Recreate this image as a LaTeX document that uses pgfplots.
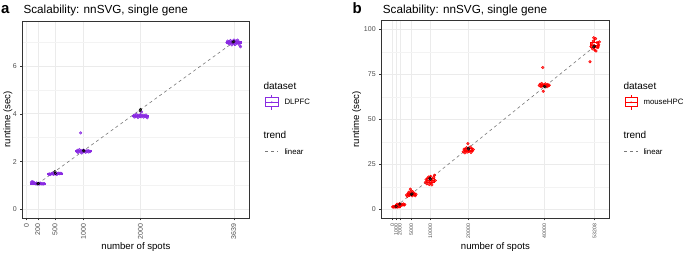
\documentclass[border=0pt]{standalone}
\usepackage{pgfplots}
\pgfplotsset{compat=1.18}
\usepgfplotslibrary{statistics}
\usepackage{fontspec}
\setmainfont{Liberation Sans}
\definecolor{dlpfc}{RGB}{138,43,226}
\definecolor{mhpc}{RGB}{255,0,0}
\definecolor{gridc}{RGB}{235,235,235}
\definecolor{gridm}{RGB}{243,243,243}
\definecolor{gtwenty}{RGB}{51,51,51}
\definecolor{gthirty}{RGB}{77,77,77}
\definecolor{trendc}{RGB}{120,120,120}
\pgfplotsset{
  panel/.style={
    scale only axis,
    axis line style={draw=gtwenty, line width=0.5pt},
    tick style={draw=gtwenty, line width=0.5pt},
    tick align=outside,
    major tick length=2.5pt,
    minor tick length=0pt,
    xtick pos=lower, ytick pos=left,
    xmajorgrids, ymajorgrids, yminorgrids,
    major grid style={draw=gridc, line width=0.6pt},
    minor grid style={draw=gridm, line width=0.35pt},
    scaled x ticks=false, scaled y ticks=false,
    yticklabel style={font=\fontsize{7}{7}\selectfont, text=gthirty},
    xticklabel style={rotate=90, anchor=east, text=gthirty},
  },
  pts/.style={only marks, color=#1, mark=*, mark size=1.35pt, mark options={draw=none, fill=#1, fill opacity=0.7}},
  dark/.style={only marks, color=black, mark=*, mark size=1.3pt, mark options={draw=none, fill=black!80, fill opacity=0.5}},
  bx/.style={draw=#1, line width=0.6pt, solid},
}
\begin{document}
\begin{tikzpicture}
\useasboundingbox (0pt,0pt) rectangle (685pt,253pt);
% ---------------- panel a ----------------
\begin{axis}[panel, at={(22.7pt,35pt)}, anchor=south west, width=226.3pt, height=197pt,
  xmin=-65, xmax=3905, ymin=-0.36, ymax=7.88,
  xtick={0,200,500,1000,2000,3639}, xticklabels={0,200,500,1000,2000,3639},
  xticklabel style={font=\fontsize{7}{7}\selectfont},
  ytick={0,2,4,6}, yticklabels={0,2,4,6}, minor ytick={1,3,5,7},
  boxplot/draw direction=y]
\addplot[bx=dlpfc, boxplot prepared={draw position=200, lower whisker=1.05, lower quartile=1.07, median=1.08, upper quartile=1.10, upper whisker=1.13, box extend=270, whisker extend=0}] coordinates {};
\addplot[bx=dlpfc, boxplot prepared={draw position=500, lower whisker=1.46, lower quartile=1.48, median=1.49, upper quartile=1.50, upper whisker=1.52, box extend=270, whisker extend=0}] coordinates {};
\addplot[bx=dlpfc, boxplot prepared={draw position=1000, lower whisker=2.36, lower quartile=2.41, median=2.43, upper quartile=2.46, upper whisker=2.50, box extend=270, whisker extend=0}] coordinates {};
\addplot[bx=dlpfc, boxplot prepared={draw position=2000, lower whisker=3.83, lower quartile=3.88, median=3.91, upper quartile=3.94, upper whisker=3.97, box extend=270, whisker extend=0}] coordinates {};
\addplot[bx=dlpfc, boxplot prepared={draw position=3639, lower whisker=6.85, lower quartile=6.94, median=6.99, upper quartile=7.04, upper whisker=7.08, box extend=270, whisker extend=0}] coordinates {};
\addplot[pts=dlpfc] coordinates {
(88,1.13)(100,1.16)(112,1.12)(122,1.14)(135,1.11)(148,1.09)(160,1.07)(172,1.09)(185,1.06)(198,1.08)(210,1.07)(222,1.09)(235,1.06)(248,1.08)(262,1.07)(275,1.08)(290,1.06)(305,1.07)(315,1.08)(180,1.10)(240,1.10)
(392,1.47)(405,1.48)(420,1.46)(435,1.49)(450,1.50)(465,1.48)(480,1.47)(495,1.50)(510,1.49)(525,1.51)(540,1.48)(555,1.50)(570,1.52)(585,1.49)(600,1.51)(615,1.50)(460,1.52)(530,1.46)
(885,2.42)(895,2.47)(905,2.38)(918,2.44)(930,2.50)(945,2.40)(950,3.20)(960,2.46)(972,2.36)(985,2.43)(1000,2.48)(1012,2.41)(1025,2.45)(1040,2.39)(1055,2.44)(1068,2.42)(1082,2.46)(1095,2.40)(1108,2.43)(1120,2.42)
(1880,3.92)(1892,3.86)(1905,3.95)(1918,3.88)(1930,3.97)(1945,3.90)(1958,3.84)(1972,3.93)(1985,3.89)(2000,3.96)(2012,3.87)(2020,4.08)(2030,3.91)(2045,3.94)(2058,3.86)(2072,3.92)(2085,3.89)(2098,3.95)(2110,3.88)(2120,3.83)
(3520,6.98)(3530,7.04)(3542,6.95)(3555,7.02)(3568,6.92)(3580,7.06)(3592,6.98)(3605,6.88)(3618,7.03)(3630,6.94)(3642,7.08)(3655,6.99)(3668,6.91)(3680,7.05)(3692,6.97)(3705,7.08)(3718,6.93)(3730,7.00)(3745,6.85)(3755,6.80)
};
\addplot[draw=trendc, line width=0.6pt, dash pattern=on 3pt off 3pt] coordinates {(200,1.07)(3639,7.0)};
\addplot[dark] coordinates {(200,1.07)(212,1.08)(500,1.58)(508,1.50)(1000,2.46)(1010,2.44)(2000,4.18)(1995,4.12)(3639,7.02)(3625,7.0)};
\end{axis}
% ---------------- panel b ----------------
\begin{axis}[panel, at={(381.7pt,35pt)}, anchor=south west, width=227.3pt, height=197.3pt,
  xmin=-2790, xmax=57026, ymin=-4.8, ymax=104.8,
  xtick={0,1000,2000,5000,10000,20000,40000,53208}, xticklabels={0,1000,2000,5000,10000,20000,40000,53208},
  xticklabel style={font=\fontsize{5.2}{5.2}\selectfont},
  ytick={0,25,50,75,100}, yticklabels={0,25,50,75,100}, minor ytick={12.5,37.5,62.5,87.5},
  boxplot/draw direction=y]
\addplot[bx=mhpc, boxplot prepared={draw position=1000, lower whisker=1.2, lower quartile=1.35, median=1.5, upper quartile=1.6, upper whisker=1.8, box extend=2200, whisker extend=0}] coordinates {};
\addplot[bx=mhpc, boxplot prepared={draw position=2000, lower whisker=2.2, lower quartile=2.4, median=2.6, upper quartile=2.9, upper whisker=3.3, box extend=2200, whisker extend=0}] coordinates {};
\addplot[bx=mhpc, boxplot prepared={draw position=5000, lower whisker=7.2, lower quartile=7.9, median=8.4, upper quartile=9.0, upper whisker=10.2, box extend=2200, whisker extend=0}] coordinates {};
\addplot[bx=mhpc, boxplot prepared={draw position=10000, lower whisker=13.6, lower quartile=15.0, median=16.0, upper quartile=17.4, upper whisker=18.9, box extend=2200, whisker extend=0}] coordinates {};
\addplot[bx=mhpc, boxplot prepared={draw position=20000, lower whisker=31.4, lower quartile=32.0, median=32.9, upper quartile=33.7, upper whisker=34.6, box extend=2200, whisker extend=0}] coordinates {};
\addplot[bx=mhpc, boxplot prepared={draw position=40000, lower whisker=68.1, lower quartile=68.6, median=69.0, upper quartile=69.4, upper whisker=69.9, box extend=2200, whisker extend=0}] coordinates {};
\addplot[bx=mhpc, boxplot prepared={draw position=53208, lower whisker=88.0, lower quartile=90.2, median=91.2, upper quartile=92.8, upper whisker=95.3, box extend=2200, whisker extend=0}] coordinates {};
\addplot[pts=mhpc] coordinates {
(100,1.4)(300,1.3)(450,1.6)(600,1.5)(750,1.2)(900,1.7)(1050,1.4)(1200,1.5)(1350,1.3)(1500,1.8)(1650,1.5)(1800,1.4)(1950,1.6)
(1100,2.4)(1300,2.9)(1500,2.2)(1700,2.7)(1900,3.1)(2100,2.5)(2300,2.8)(2500,2.3)(2700,2.6)(2900,3.0)(3100,2.4)(3300,2.7)
(3750,8.0)(3950,7.2)(4150,8.6)(4350,9.5)(4550,7.8)(4750,11.2)(4900,10.2)(5050,8.3)(5250,7.5)(5450,9.0)(5650,8.1)(5850,8.8)(6050,7.6)(6250,8.4)(4650,8.9)(5350,9.8)
(8700,15.0)(8900,16.5)(9100,14.2)(9300,17.4)(9500,15.6)(9700,13.8)(9900,16.1)(10100,18.3)(10300,14.8)(10500,16.9)(10700,15.3)(10900,17.8)(11100,18.9)(11300,16.0)(9600,18.0)(10400,13.6)
(18700,32.0)(18900,33.5)(19100,31.4)(19300,32.8)(19500,34.2)(19700,31.8)(19900,36.5)(20100,33.1)(20300,32.4)(20500,34.6)(20700,31.6)(20900,33.8)(21100,32.6)(21300,33.3)
(38700,68.8)(38900,69.5)(39100,68.2)(39300,69.9)(39500,68.6)(39600,78.8)(39700,65.6)(39900,69.2)(40100,68.4)(40300,69.7)(40500,68.9)(40700,68.1)(40900,69.4)(41100,68.7)(41300,69.0)
(52000,82.0)(52300,90.5)(52500,92.0)(52700,89.2)(52900,93.5)(53100,91.0)(53300,88.4)(53500,94.8)(53700,90.2)(53900,92.6)(54100,89.8)(54300,91.5)(54500,93.0)(53000,95.3)(53600,88.0)(54200,90.8)
};
\addplot[draw=trendc, line width=0.6pt, dash pattern=on 3pt off 3pt] coordinates {(1000,1.7)(53208,90.5)};
\addplot[dark] coordinates {(1000,1.6)(2000,2.9)(5000,8.3)(5200,8.6)(10000,16.8)(9900,17.3)(20000,34.0)(20100,33.5)(40000,68.3)(40200,68.0)(53208,90.6)(53000,90.2)};
\end{axis}
% ---------------- titles and labels ----------------
\node[anchor=base west, inner sep=0] at (1pt,239.7pt) {\bfseries\fontsize{15}{15}\selectfont a};
\node[anchor=base west, inner sep=0] at (23.3pt,239.5pt) {\fontsize{11.7}{12}\selectfont Scalability: nnSVG, single gene};
\node[anchor=base west, inner sep=0] at (352.3pt,239.5pt) {\bfseries\fontsize{15}{15}\selectfont b};
\node[anchor=base west, inner sep=0] at (382.7pt,239.5pt) {\fontsize{11.7}{12}\selectfont Scalability: nnSVG, single gene};
\node[anchor=base, inner sep=0] at (135.9pt,3pt) {\fontsize{9.6}{10}\selectfont number of spots};
\node[anchor=base, inner sep=0] at (495.4pt,3pt) {\fontsize{9.6}{10}\selectfont number of spots};
\node[rotate=90, inner sep=0] at (8pt,133.5pt) {\fontsize{9.6}{10}\selectfont runtime (sec)};
\node[rotate=90, inner sep=0] at (356.7pt,133.5pt) {\fontsize{9.6}{10}\selectfont runtime (sec)};
% ---------------- legends ----------------
\node[anchor=west, inner sep=0] at (263.3pt,167.3pt) {\fontsize{10}{10}\selectfont dataset};
\draw[dlpfc, line width=0.6pt] (265.5pt,146.2pt) rectangle (278pt,155.2pt);
\draw[dlpfc, line width=0.6pt] (265.5pt,150.7pt) -- (278pt,150.7pt);
\draw[dlpfc, line width=0.6pt] (271.75pt,155.2pt) -- (271.75pt,158pt) (271.75pt,146.2pt) -- (271.75pt,143.4pt);
\fill[dlpfc, opacity=0.7] (271.75pt,150.7pt) circle (1.1pt);
\node[anchor=west, inner sep=0] at (284.3pt,150.7pt) {\fontsize{7.8}{8}\selectfont DLPFC};
\node[anchor=west, inner sep=0] at (263.3pt,118.3pt) {\fontsize{10}{10}\selectfont trend};
\draw[trendc, line width=0.6pt, dash pattern=on 3pt off 3pt] (265pt,101.3pt) -- (278.3pt,101.3pt);
\node[anchor=west, inner sep=0] at (284.3pt,101.3pt) {\fontsize{7.8}{8}\selectfont linear};
\node[anchor=west, inner sep=0] at (623.3pt,167.3pt) {\fontsize{10}{10}\selectfont dataset};
\draw[mhpc, line width=0.6pt] (624.8pt,146.2pt) rectangle (637.3pt,155.2pt);
\draw[mhpc, line width=0.6pt] (624.8pt,150.7pt) -- (637.3pt,150.7pt);
\draw[mhpc, line width=0.6pt] (631.05pt,155.2pt) -- (631.05pt,158pt) (631.05pt,146.2pt) -- (631.05pt,143.4pt);
\fill[mhpc, opacity=0.7] (631.05pt,150.7pt) circle (1.1pt);
\node[anchor=west, inner sep=0] at (643.3pt,150.7pt) {\fontsize{7.8}{8}\selectfont mouseHPC};
\node[anchor=west, inner sep=0] at (623.3pt,118.3pt) {\fontsize{10}{10}\selectfont trend};
\draw[trendc, line width=0.6pt, dash pattern=on 3pt off 3pt] (624.3pt,101.3pt) -- (637.7pt,101.3pt);
\node[anchor=west, inner sep=0] at (643.3pt,101.3pt) {\fontsize{7.8}{8}\selectfont linear};
\end{tikzpicture}
\end{document}
